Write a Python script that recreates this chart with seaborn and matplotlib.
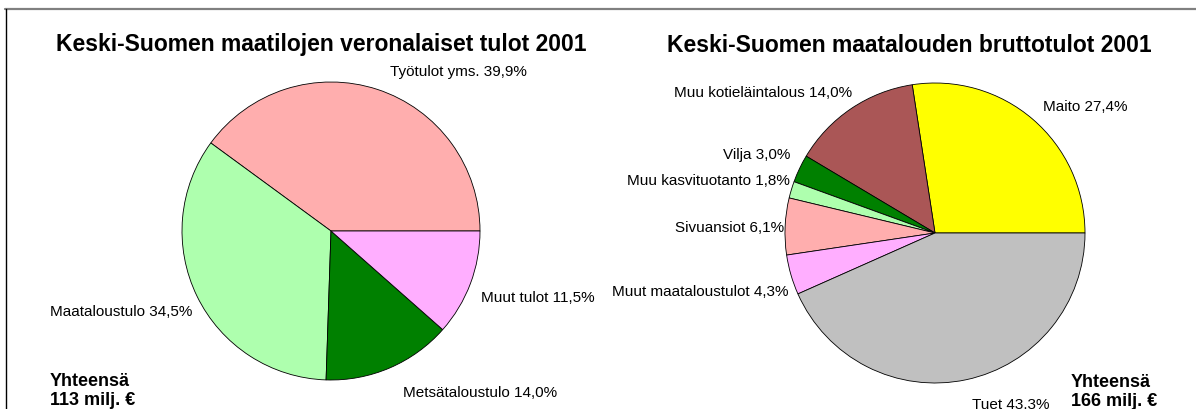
import matplotlib
matplotlib.use("Agg")
import matplotlib.pyplot as plt
import seaborn as sns
from matplotlib.lines import Line2D

# Data
tulot_labels = ["Työtulot yms. 39,9%", "Maataloustulo 34,5%",
                "Metsätaloustulo 14,0%", "Muut tulot 11,5%"]
tulot_values = [39.9, 34.5, 14.0, 11.5]
tulot_colors = ["#FFAEAE", "#AEFFAE", "#008000", "#FFAEFF"]

brutto_labels = ["Maito 27,4%", "Muu kotieläintalous 14,0%", "Vilja 3,0%",
                 "Muu kasvituotanto 1,8%", "Sivuansiot 6,1%",
                 "Muut maataloustulot 4,3%", "Tuet 43,3%"]
brutto_values = [27.4, 14.0, 3.0, 1.8, 6.1, 4.3, 43.3]
brutto_colors = ["#FFFF00", "#AA5656", "#008000", "#AEFFAE", "#FFAEAE",
                 "#FFAEFF", "#C0C0C0"]

sns.set_theme(style="white")
plt.rcParams['font.family'] = ['Liberation Sans', 'DejaVu Sans']
plt.rcParams['text.color'] = 'black'

W, H = 1196, 410
fig = plt.figure(figsize=(W / 100, H / 100), dpi=100)
fig.patch.set_facecolor("white")


def px(x, y):
    # pikselit (vasen yläkulma) -> figure-koordinaatit
    return x / W, 1 - y / H


def pie_axes(cx, cy, r):
    ax = fig.add_axes([(cx - r) / W, (H - cy - r) / H, 2 * r / W, 2 * r / H])
    return ax


# Kehys
fig.add_artist(Line2D([5 / W, 1], [1 - 10 / H] * 2, color="#808080", lw=1.6,
                      transform=fig.transFigure))
fig.add_artist(Line2D([6 / W] * 2, [0, 1 - 10 / H], color="black", lw=1.0,
                      transform=fig.transFigure))

# Vasen piirakka
ax1 = pie_axes(331, 232, 149)
ax1.pie(tulot_values, colors=tulot_colors, startangle=0, counterclock=True,
        wedgeprops=dict(edgecolor="black", linewidth=0.6))
ax1.set_xlim(-1, 1)
ax1.set_ylim(-1, 1)
ax1.axis("off")

# Oikea piirakka
ax2 = pie_axes(935, 234, 150)
ax2.pie(brutto_values, colors=brutto_colors, startangle=0, counterclock=True,
        wedgeprops=dict(edgecolor="black", linewidth=0.6))
ax2.set_xlim(-1, 1)
ax2.set_ylim(-1, 1)
ax2.axis("off")

# Otsikot
fig.text(*px(321, 45), "Keski-Suomen maatilojen veronalaiset tulot 2001",
         ha="center", va="center", fontsize=16.5, fontweight="bold")
fig.text(*px(909, 45), "Keski-Suomen maatalouden bruttotulot 2001",
         ha="center", va="center", fontsize=16.5, fontweight="bold")

# Selitteet
lbl = dict(fontsize=11, va="center")
fig.text(*px(390, 72), tulot_labels[0], ha="left", **lbl)
fig.text(*px(50, 312), tulot_labels[1], ha="left", **lbl)
fig.text(*px(403, 393), tulot_labels[2], ha="left", **lbl)
fig.text(*px(481, 298), tulot_labels[3], ha="left", **lbl)

fig.text(*px(1043, 107), brutto_labels[0], ha="left", **lbl)
fig.text(*px(852, 93), brutto_labels[1], ha="right", **lbl)
fig.text(*px(790, 155), brutto_labels[2], ha="right", **lbl)
fig.text(*px(790, 181), brutto_labels[3], ha="right", **lbl)
fig.text(*px(784, 228), brutto_labels[4], ha="right", **lbl)
fig.text(*px(788, 292), brutto_labels[5], ha="right", **lbl)
fig.text(*px(972, 405), brutto_labels[6], ha="left", **lbl)

# Yhteensä
fig.text(*px(50, 391), "Yhteensä\n113 milj. €", ha="left", va="center",
         fontsize=13, fontweight="bold", linespacing=1.15)
fig.text(*px(1071, 392), "Yhteensä\n166 milj. €", ha="left", va="center",
         fontsize=13, fontweight="bold", linespacing=1.15)

fig.savefig("out.png", dpi=100, facecolor="white")
